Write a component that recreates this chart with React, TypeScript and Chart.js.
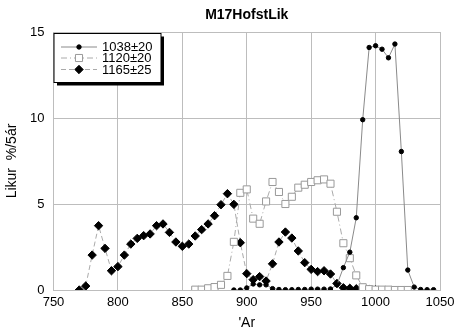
import React, { useEffect, useRef } from "react";
import { Chart, registerables } from "chart.js";

Chart.register(...registerables);

const TITLE = "M17HofstLik";
const X_TITLE = "'Ar";
const Y_TITLE = "Likur  %/5ár";

const LABEL_A = "1038±20";
const LABEL_B = "1120±20";
const LABEL_C = "1165±25";

const YEARS_A = [890, 895, 900, 905, 910, 915, 920, 925, 930, 935, 940, 945, 950, 955, 960, 965, 970, 975, 980, 985, 990, 995, 1000, 1005, 1010, 1015, 1020, 1025, 1030, 1035, 1040, 1045];
const VALUES_A = [0, 0, 0.12, 0.35, 0.3, 0.3, 0.08, 0.03, 0.02, 0.02, 0.03, 0.03, 0.05, 0.05, 0.05, 0.06, 0.3, 1.3, 2.2, 4.2, 9.9, 14.1, 14.2, 14.0, 13.5, 14.3, 8.05, 1.16, 0.17, 0.03, 0.02, 0.02];

const YEARS_B = [860, 865, 870, 875, 880, 885, 890, 895, 900, 905, 910, 915, 920, 925, 930, 935, 940, 945, 950, 955, 960, 965, 970, 975, 980, 985, 990, 995, 1000, 1005, 1010, 1015, 1020, 1025];
const VALUES_B = [0.02, 0.02, 0.1, 0.17, 0.3, 0.82, 2.8, 5.65, 5.85, 4.15, 3.85, 5.15, 6.28, 5.7, 5.0, 5.42, 5.95, 6.12, 6.28, 6.38, 6.43, 6.18, 4.55, 2.72, 1.85, 0.85, 0.16, 0.05, 0.02, 0.02, 0.02, 0, 0, 0];

const YEARS_C = [770, 775, 780, 785, 790, 795, 800, 805, 810, 815, 820, 825, 830, 835, 840, 845, 850, 855, 860, 865, 870, 875, 880, 885, 890, 895, 900, 905, 910, 915, 920, 925, 930, 935, 940, 945, 950, 955, 960, 965, 970, 975, 980, 985, 990, 995, 1000];
const VALUES_C = [0, 0.23, 2.03, 3.74, 2.42, 1.12, 1.36, 2.03, 2.67, 3.0, 3.16, 3.26, 3.74, 3.84, 3.35, 2.79, 2.54, 2.67, 3.14, 3.51, 3.84, 4.32, 4.96, 5.6, 4.98, 2.75, 0.95, 0.6, 0.78, 0.52, 1.52, 2.79, 3.37, 3.02, 2.27, 1.59, 1.2, 1.07, 1.12, 0.93, 0.38, 0.13, 0.1, 0.07, 0.03, 0.02, 0.01];

const X_MIN = 750;
const X_MAX = 1050;
const X_STEP = 50;
const Y_MIN = 0;
const Y_MAX = 15;
const Y_STEP = 5;

const FONT = "'Liberation Sans', Arial, sans-serif";

const toPoints = (xs: number[], ys: number[]) => xs.map((x, i) => ({ x, y: ys[i] }));

const overlayPlugin = {
  id: "overlay",
  afterDraw(chart: any) {
    const { ctx, chartArea } = chart;
    ctx.save();
    // title
    ctx.fillStyle = "#000";
    ctx.font = `bold 14px ${FONT}`;
    ctx.textAlign = "center";
    ctx.textBaseline = "middle";
    ctx.fillText(TITLE, (chartArea.left + chartArea.right) / 2, 15);

    // legend box
    const bx = chartArea.left + 0.5;
    const by = chartArea.top + 1.5;
    const bw = 107;
    const bh = 49;
    ctx.fillStyle = "#000";
    ctx.fillRect(bx + 3, by + 3, bw, bh);
    ctx.fillStyle = "#fff";
    ctx.fillRect(bx, by, bw, bh);
    ctx.strokeStyle = "#000";
    ctx.lineWidth = 1;
    ctx.strokeRect(bx, by, bw, bh);

    const rows = [47, 58, 69.5];
    const x0 = 61;
    const x1 = 97;
    const xm = 79;
    chart.data.datasets.forEach((ds: any, i: number) => {
      const y = rows[i];
      ctx.strokeStyle = ds.borderColor;
      ctx.lineWidth = 1;
      ctx.setLineDash(ds.borderDash || []);
      ctx.beginPath();
      ctx.moveTo(x0, y);
      ctx.lineTo(x1, y);
      ctx.stroke();
      ctx.setLineDash([]);
      ctx.fillStyle = ds.pointBackgroundColor;
      ctx.strokeStyle = ds.pointBorderColor;
      const r = ds.pointRadius;
      ctx.beginPath();
      if (ds.pointStyle === "circle") {
        ctx.arc(xm, y, r, 0, Math.PI * 2);
      } else if (ds.pointStyle === "rect") {
        const s = r * Math.SQRT1_2;
        ctx.rect(xm - s, y - s, 2 * s, 2 * s);
      } else {
        ctx.moveTo(xm - r, y);
        ctx.lineTo(xm, y - r);
        ctx.lineTo(xm + r, y);
        ctx.lineTo(xm, y + r);
        ctx.closePath();
      }
      ctx.fill();
      ctx.stroke();
      ctx.fillStyle = "#000";
      ctx.font = `13px ${FONT}`;
      ctx.textAlign = "left";
      ctx.textBaseline = "middle";
      ctx.fillText(ds.label, 102, y + 0.5);
    });
    ctx.restore();
  },
};

export default function App() {
  const ref = useRef<HTMLCanvasElement>(null);

  useEffect(() => {
    if (!ref.current) return;
    const chart = new Chart(ref.current, {
      type: "scatter",
      data: {
        datasets: [
          {
            label: LABEL_A,
            data: toPoints(YEARS_A, VALUES_A),
            showLine: true,
            borderColor: "#8a8a8a",
            borderWidth: 1,
            pointStyle: "circle",
            pointRadius: 2.2,
            pointBackgroundColor: "#000",
            pointBorderColor: "#000",
            pointBorderWidth: 1,
          },
          {
            label: LABEL_B,
            data: toPoints(YEARS_B, VALUES_B),
            showLine: true,
            borderColor: "#aaaaaa",
            borderWidth: 1,
            borderDash: [6, 3, 1, 3],
            pointStyle: "rect",
            pointRadius: 5,
            pointBackgroundColor: "#fff",
            pointBorderColor: "#999",
            pointBorderWidth: 1,
          },
          {
            label: LABEL_C,
            data: toPoints(YEARS_C, VALUES_C),
            showLine: true,
            borderColor: "#aaaaaa",
            borderWidth: 1,
            borderDash: [5, 3],
            pointStyle: "rectRot",
            pointRadius: 4.2,
            pointBackgroundColor: "#000",
            pointBorderColor: "#000",
            pointBorderWidth: 1,
          },
        ],
      },
      options: {
        responsive: false,
        animation: false,
        layout: { padding: { top: 32, right: 0, left: 0, bottom: 0 } },
        plugins: {
          legend: { display: false },
          title: { display: false },
          tooltip: { enabled: false },
        },
        scales: {
          x: {
            type: "linear",
            min: X_MIN,
            max: X_MAX,
            afterBuildTicks: (scale: any) => {
              const t = [];
              for (let v = X_MIN; v <= X_MAX; v += X_STEP) t.push({ value: v });
              scale.ticks = t;
            },
            afterFit: (scale: any) => {
              scale.height = 42;
              scale.paddingLeft = 0;
              scale.paddingRight = 14;
            },
            grid: { color: "#bdbdbd", lineWidth: 1, drawTicks: false },
            border: { color: "#bdbdbd" },
            ticks: {
              color: "#000",
              font: { family: FONT, size: 13 },
              padding: 5,
              maxRotation: 0,
              autoSkip: false,
              callback: (v: any) => String(v),
            },
            title: {
              display: true,
              text: X_TITLE,
              color: "#000",
              font: { family: FONT, size: 14 },
              padding: { top: 1, bottom: 0 },
            },
          },
          y: {
            type: "linear",
            min: Y_MIN,
            max: Y_MAX,
            afterBuildTicks: (scale: any) => {
              const t = [];
              for (let v = Y_MIN; v <= Y_MAX; v += Y_STEP) t.push({ value: v });
              scale.ticks = t;
            },
            afterFit: (scale: any) => {
              scale.width = 53.5;
            },
            grid: { color: "#bdbdbd", lineWidth: 1, drawTicks: false },
            border: { color: "#bdbdbd" },
            ticks: {
              color: "#000",
              font: { family: FONT, size: 13 },
              padding: 9,
              callback: (v: any) => String(v),
            },
            title: {
              display: true,
              text: Y_TITLE,
              color: "#000",
              font: { family: FONT, size: 14 },
              padding: { top: 4, bottom: 0 },
            },
          },
        },
      },
      plugins: [overlayPlugin],
    } as any);
    return () => chart.destroy();
  }, []);

  return (
    <div style={{ position: "fixed", left: 0, top: 0, width: 454, height: 332, background: "#fff" }}>
      <canvas ref={ref} width={454} height={332} style={{ width: 454, height: 332 }} />
    </div>
  );
}
